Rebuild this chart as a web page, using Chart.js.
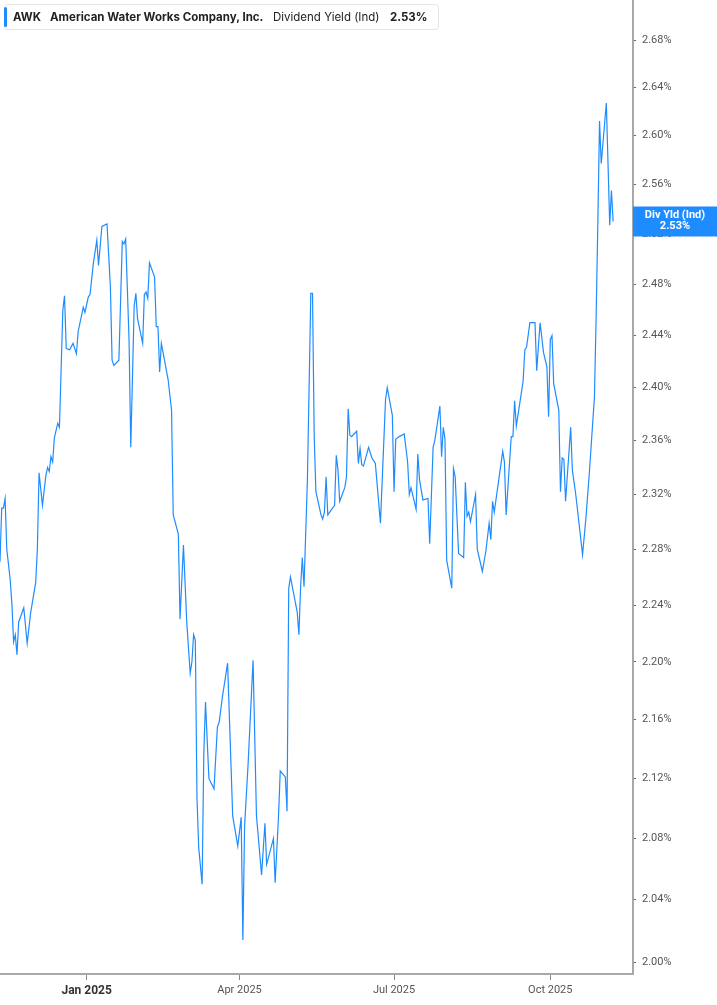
<!DOCTYPE html>
<html>
<head>
<meta charset="utf-8">
<script src="https://cdn.jsdelivr.net/npm/chart.js@4.4.1/dist/chart.umd.min.js"></script>
<style>
  body { margin: 0; background: #fff; font-family: Roboto, "Noto Sans", sans-serif; }
  #wrap { position: relative; width: 717px; height: 1005px; }
  #legend { position: absolute; left: 4px; top: 4px; width: 435px; height: 26px; box-sizing: border-box;
            border: 1px solid #e6e6e6; border-radius: 3px; background: #fff; font-family: Inter, Roboto, sans-serif;
            font-size: 11.5px; color: #222; }
  #legend .bar { position: absolute; left: -1px; top: 2px; width: 3px; height: 20px; background: #1e8cff; border-radius: 2px; }
  #legend span { position: absolute; top: 5px; white-space: nowrap; line-height: 14px; }
  #legend .b { font-weight: bold; }
</style>
</head>
<body>
<div id="wrap">
  <canvas id="myChart"></canvas>
  <div id="legend">
    <div class="bar"></div>
    <span class="b" id="lgTicker" style="left:8px"></span>
    <span class="b" id="lgName" style="left:45px"></span>
    <span id="lgSeries" style="left:268px"></span>
    <span class="b" id="lgValue" style="left:385px"></span>
  </div>
</div>
<script>
const tickerName = 'AWK';
const companyName = 'American Water Works Company, Inc.';
const seriesName = 'Dividend Yield (Ind)';
const shortName = 'Div Yld (Ind)';

// days since 1 Jan 2025
const days = [
  -51, -50, -49, -48, -47, -45, -44, -43, -42, -41,
  -40, -37, -35, -33, -30, -29, -28, -26, -24, -23,
  -22, -21, -20, -19, -17, -16, -14, -13, -12, -10,
  -8, -6, -5, -2, -1, 1, 2, 4, 6, 7,
  9, 12, 14, 15, 16, 19, 21, 22, 23, 25,
  26, 28, 29, 30, 33, 34, 35, 36, 37, 40,
  41, 42, 43, 44, 48, 50, 51, 54, 55, 57,
  59, 61, 62, 63, 64, 65, 66, 68, 69, 70,
  72, 75, 77, 78, 80, 83, 86, 89, 91, 92,
  93, 95, 98, 100, 103, 105, 106, 110, 111, 113,
  114, 117, 118, 119, 120, 124, 125, 126, 127, 128,
  130, 132, 133, 134, 135, 138, 139, 140, 141, 142,
  146, 147, 148, 149, 152, 153, 154, 155, 156, 159,
  160, 161, 162, 163, 166, 168, 170, 173, 176, 177,
  180, 181, 182, 184, 187, 189, 190, 191, 194, 195,
  196, 198, 201, 202, 204, 205, 208, 209, 210, 211,
  212, 215, 216, 217, 219, 222, 223, 224, 225, 226,
  229, 230, 233, 235, 237, 238, 239, 240, 245, 246,
  247, 250, 251, 252, 253, 257, 258, 259, 261, 264,
  265, 267, 269, 271, 272, 273, 274, 275, 278, 279,
  280, 281, 282, 285, 286, 288, 292, 294, 296, 299,
  300, 301, 302, 303, 306, 308, 309, 310
];

const yieldPct = [
  2.271, 2.310, 2.310, 2.317, 2.280, 2.258, 2.241, 2.214, 2.219, 2.205,
  2.228, 2.238, 2.213, 2.234, 2.256, 2.280, 2.336, 2.312, 2.334, 2.340,
  2.337, 2.348, 2.344, 2.362, 2.373, 2.370, 2.460, 2.471, 2.430, 2.429,
  2.434, 2.426, 2.443, 2.462, 2.458, 2.470, 2.472, 2.497, 2.515, 2.495,
  2.526, 2.528, 2.478, 2.421, 2.417, 2.421, 2.514, 2.512, 2.516, 2.436,
  2.355, 2.463, 2.473, 2.453, 2.434, 2.472, 2.474, 2.469, 2.497, 2.486,
  2.447, 2.447, 2.412, 2.434, 2.406, 2.383, 2.305, 2.291, 2.230, 2.283,
  2.227, 2.192, 2.200, 2.219, 2.215, 2.106, 2.074, 2.050, 2.137, 2.172,
  2.120, 2.113, 2.155, 2.158, 2.176, 2.199, 2.095, 2.075, 2.094, 2.014,
  2.088, 2.128, 2.201, 2.095, 2.056, 2.090, 2.063, 2.080, 2.051, 2.095,
  2.125, 2.121, 2.098, 2.252, 2.260, 2.235, 2.219, 2.253, 2.274, 2.253,
  2.331, 2.473, 2.473, 2.363, 2.322, 2.305, 2.302, 2.307, 2.333, 2.305,
  2.312, 2.349, 2.338, 2.315, 2.325, 2.333, 2.384, 2.364, 2.363, 2.367,
  2.343, 2.354, 2.342, 2.341, 2.355, 2.347, 2.343, 2.299, 2.391, 2.400,
  2.379, 2.322, 2.361, 2.363, 2.365, 2.344, 2.320, 2.325, 2.309, 2.350,
  2.331, 2.316, 2.317, 2.284, 2.355, 2.360, 2.386, 2.348, 2.370, 2.361,
  2.272, 2.252, 2.339, 2.333, 2.277, 2.274, 2.329, 2.304, 2.307, 2.300,
  2.320, 2.280, 2.264, 2.278, 2.299, 2.287, 2.315, 2.307, 2.352, 2.344,
  2.305, 2.363, 2.363, 2.390, 2.371, 2.405, 2.429, 2.431, 2.450, 2.450,
  2.413, 2.450, 2.427, 2.416, 2.378, 2.437, 2.440, 2.403, 2.383, 2.322,
  2.347, 2.346, 2.315, 2.370, 2.338, 2.320, 2.276, 2.303, 2.336, 2.393,
  2.455, 2.529, 2.612, 2.577, 2.627, 2.527, 2.555, 2.530
];

const yTicks = [2.00, 2.04, 2.08, 2.12, 2.16, 2.20, 2.24, 2.28, 2.32, 2.36, 2.40, 2.44, 2.48, 2.52, 2.56, 2.60, 2.64, 2.68];
const xTickDays = [0, 90, 181, 273];
const xTickLabels = ['Jan 2025', 'Apr 2025', 'Jul 2025', 'Oct 2025'];

const lineColor = '#1e8cff';
const lastValue = yieldPct[yieldPct.length - 1];

document.getElementById('lgTicker').textContent = tickerName;
document.getElementById('lgName').textContent = companyName;
document.getElementById('lgSeries').textContent = seriesName;
document.getElementById('lgValue').textContent = lastValue.toFixed(2) + '%';

// blue tag on the right axis at the last value
const endLabel = {
  id: 'endLabel',
  afterDraw(chart) {
    const { ctx, chartArea, scales } = chart;
    const y = scales.y.getPixelForValue(lastValue);
    const x0 = chartArea.right;
    const w = chart.width - x0;
    ctx.save();
    ctx.fillStyle = lineColor;
    ctx.fillRect(x0, y - 15, w, 30);
    ctx.fillStyle = '#fff';
    ctx.font = 'bold 11px Roboto, sans-serif';
    ctx.textAlign = 'center';
    ctx.textBaseline = 'middle';
    ctx.fillText(shortName, x0 + w / 2, y - 6);
    ctx.fillText(lastValue.toFixed(2) + '%', x0 + w / 2, y + 5);
    ctx.restore();
  }
};

// no overflow padding, plot area goes to the canvas edges
function noPad(s) {
  s.paddingTop = 0;
  s.paddingBottom = 0;
  s.paddingLeft = 0;
  s.paddingRight = 0;
}

const points = days.map((d, i) => ({ x: d, y: yieldPct[i] }));

const config = {
  type: 'line',
  data: {
    datasets: [{
      label: seriesName,
      data: points,
      borderColor: lineColor,
      borderWidth: 1.2,
      pointRadius: 0,
      tension: 0,
      fill: false
    }]
  },
  options: {
    responsive: true,
    maintainAspectRatio: false,
    animation: false,
    layout: { padding: 0 },
    plugins: { legend: { display: false }, tooltip: { enabled: false } },
    scales: {
      x: {
        type: 'linear',
        min: -51,
        max: 321.7,
        bounds: 'data',
        afterBuildTicks: (s) => { s.ticks = xTickDays.map(v => ({ value: v })); },
        afterFit: (s) => { s.height = 31; noPad(s); },
        grid: { display: true, drawOnChartArea: false, drawTicks: true, tickLength: 6, tickColor: '#8a8a8a', tickWidth: 1 },
        border: { display: true, color: '#a8a8a8', width: 2 },
        ticks: {
          autoSkip: false,
          maxRotation: 0,
          padding: 4,
          callback: (v) => {
            const i = xTickDays.indexOf(v);
            return i >= 0 ? xTickLabels[i] : '';
          },
          font: (c) => c.tick && c.tick.value === 0
            ? { family: 'Roboto', size: 12, weight: 'bold' }
            : { family: 'Roboto', size: 11 },
          color: (c) => c.tick && c.tick.value === 0 ? '#333' : '#555'
        }
      },
      y: {
        type: 'logarithmic',
        position: 'right',
        min: 1.9924,
        max: 2.7143,
        bounds: 'data',
        afterBuildTicks: (s) => { s.ticks = yTicks.map(v => ({ value: v })); },
        afterFit: (s) => { s.width = 84; noPad(s); },
        grid: { display: true, drawOnChartArea: false, drawTicks: true, tickLength: 3, tickColor: '#666', tickWidth: 1 },
        border: { display: true, color: '#a8a8a8', width: 2 },
        ticks: {
          autoSkip: false,
          padding: 6,
          font: { family: 'Roboto', size: 11 },
          color: '#555',
          callback: (v) => Number(v).toFixed(2) + '%'
        }
      }
    }
  },
  plugins: [endLabel]
};

const myChart = new Chart(document.getElementById('myChart'), config);
</script>
</body>
</html>
